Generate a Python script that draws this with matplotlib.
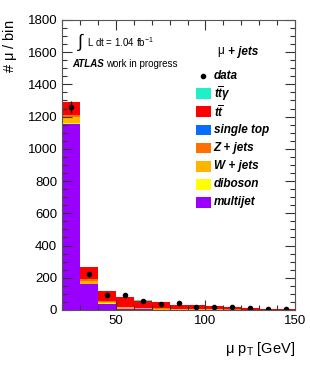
import numpy as np
import matplotlib.pyplot as plt
from matplotlib.patches import Rectangle
from matplotlib.ticker import MultipleLocator

plt.rcParams['font.family'] = ['Liberation Sans', 'DejaVu Sans']
plt.rcParams['mathtext.fontset'] = 'custom'
plt.rcParams['mathtext.rm'] = 'Liberation Sans'
plt.rcParams['mathtext.it'] = 'Liberation Sans:italic:bold'
plt.rcParams['mathtext.bf'] = 'Liberation Sans:bold'

# muon pT bins [GeV]
edges = np.arange(20, 151, 10)
centers = edges[:-1] + 5

# stacked MC, bottom to top
multijet = [1157, 160, 40, 5, 3, 2, 1, 1, 0, 0, 0, 0, 0]
diboson = [1, 0.5, 0.5, 0.3, 0.3, 0.2, 0.2, 0.2, 0.1, 0.1, 0.1, 0.1, 0.1]
wjets = [41, 22, 12, 10, 7, 6, 4, 4, 3, 2, 1, 1, 0.5]
zjets = [10, 8, 4, 4, 3, 2, 2, 1, 1, 1, 1, 0.3, 0.2]
singletop = [3, 1.5, 1, 1, 1, 0.8, 0.6, 0.5, 0.4, 0.3, 0.2, 0.1, 0.1]
ttbar = [79, 73, 58, 59, 44, 39, 23, 21, 17, 14, 9, 5.5, 4.2]
ttgamma = [1, 0.5, 0.5, 0.5, 0.5, 0.3, 0.3, 0.3, 0.2, 0.2, 0.1, 0.1, 0.1]

data = np.array([1260, 221, 91, 92, 58, 37, 45, 21, 21, 17, 12, 6, 4])

stack = [
    (multijet, '#9900ff', 'multijet'),
    (diboson, '#ffff00', 'diboson'),
    (wjets, '#ffb400', 'W + jets'),
    (zjets, '#ff7000', 'Z + jets'),
    (singletop, '#0a6cff', 'single top'),
    (ttbar, '#ff0000', r'$t\overline{t}$'),
    (ttgamma, '#20f0c8', r'$t\overline{t}\gamma$'),
]

fig = plt.figure(figsize=(3.1, 3.69), dpi=100)
ax = fig.add_axes([0.2, 0.16, 0.752, 0.786])

bottom = np.zeros(len(centers))
for vals, col, lab in stack:
    ax.bar(edges[:-1], vals, width=10, bottom=bottom, align='edge',
           color=col, linewidth=0)
    bottom += np.array(vals)

ax.errorbar(centers, data, yerr=np.sqrt(data), fmt='o', color='black',
            markersize=3, elinewidth=1, capsize=0)

ax.set_xlim(20, 150)
ax.set_ylim(0, 1800)
ax.xaxis.set_major_locator(MultipleLocator(50))
ax.xaxis.set_minor_locator(MultipleLocator(10))
ax.yaxis.set_major_locator(MultipleLocator(200))
ax.yaxis.set_minor_locator(MultipleLocator(50))
ax.tick_params(which='both', direction='in', top=True, right=True,
               labelsize=9.5, width=0.8, color='#333333')
ax.tick_params(which='major', length=7)
ax.tick_params(which='minor', length=3.5)
for s in ax.spines.values():
    s.set_linewidth(0.8)
    s.set_color('#555555')

fig.text(0.952, 0.055, r'$\mathrm{\mu\ p_{T}}$ [GeV]', ha='right', va='center',
         fontsize=10.5)
fig.text(0.032, 0.947, r'# $\mathrm{\mu}$ / bin', ha='center', va='top',
         rotation=90, fontsize=10.5)

# labels
fig.text(77 / 310, 1 - 42 / 369, r'$\int$', fontsize=13, va='center', ha='left')
fig.text(87 / 310, 1 - 42 / 369, r'L dt = 1.04 fb$^{\mathrm{-1}}$', fontsize=7,
         va='center', ha='left')
fig.text(72 / 310, 1 - 64 / 369, 'ATLAS', fontsize=7, fontweight='bold',
         fontstyle='italic', va='center', ha='left')
fig.text(106 / 310, 1 - 64 / 369, 'work in progress', fontsize=7,
         va='center', ha='left')
fig.text(217 / 310, 1 - 52 / 369, r'$\mathrm{\mu}$', fontsize=8.5,
         va='center', ha='left')
fig.text(228 / 310, 1 - 52 / 369, '+ jets', fontsize=8.5, fontweight='bold',
         fontstyle='italic', va='center', ha='left')

# legend
rows = [('data', None)] + [(lab, col) for vals, col, lab in stack[::-1]]
for i, (lab, col) in enumerate(rows):
    yc = 1 - (75.7 + 18.1 * i) / 369
    if col is None:
        fig.lines.append(plt.Line2D([203 / 310], [yc], marker='o', color='black',
                                    markersize=3, transform=fig.transFigure))
    else:
        fig.patches.append(Rectangle((196 / 310, yc - 5.3 / 369), 14.7 / 310,
                                     10.7 / 369, facecolor=col, edgecolor='none',
                                     transform=fig.transFigure))
    fig.text(213.5 / 310, yc, lab, fontsize=8.5, fontweight='bold',
             fontstyle='italic', va='center', ha='left')

fig.savefig('out.png', dpi=100)
